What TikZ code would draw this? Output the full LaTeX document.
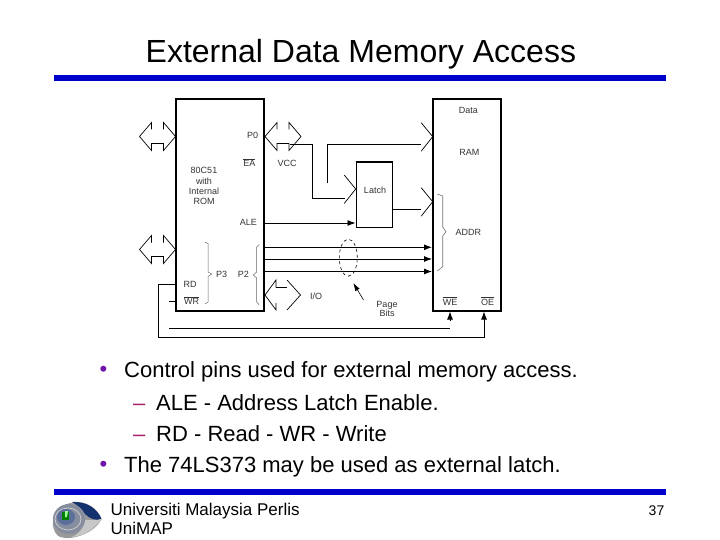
\documentclass[tikz,border=0pt]{standalone}
\usepackage{fontspec}
\setmainfont{Liberation Sans}
\usepackage{amsmath}
\usepackage{xcolor}
\usetikzlibrary{arrows.meta, shapes.geometric}
\definecolor{barblue}{RGB}{0,0,204}
\definecolor{logonavy}{RGB}{20,50,110}
\definecolor{bulletpurple}{RGB}{110,20,170}
\definecolor{dashpink}{RGB}{170,30,110}
\tikzset{
    chipbox/.style={draw, line width=2pt, inner sep=0pt},
    wire/.style={line width=0.9pt},
    arrowwire/.style={line width=0.9pt, -{Latex[length=8pt,width=6pt]}},
    openhead/.style={line width=0.7pt},
    chiplabel/.style={font=\fontsize{9}{9}\selectfont, text=black!80, inner sep=0pt},
    bar/.style={fill=barblue, draw=none},
    bodytext/.style={font=\fontsize{22}{24}\selectfont, anchor=base west, inner sep=0pt},
    foottext/.style={font=\fontsize{17}{19}\selectfont, anchor=base west, inner sep=0pt},
    dblarrow/.pic={
        \draw[openhead] (12,-7) -- (12,-14) -- (0,0) -- (12,14) -- (12,7) -- (24,7) -- (24,14) -- (36,0) -- (24,-14) -- (24,-7);
    }
}
\begin{document}
\begin{tikzpicture}[x=1pt, y=-1pt]
            \useasboundingbox (0,0) rectangle (720,540);
            % slide frame
            \node[font=\fontsize{32}{34}\selectfont, anchor=base west, inner sep=0pt] (title) at (145.5,62.3) {External Data Memory Access};
            \node[bar, minimum width=612pt, minimum height=6pt, inner sep=0pt] (topbar) at (360,78) {};
            \node[bar, minimum width=612pt, minimum height=6pt, inner sep=0pt] (footbar) at (360,492) {};

            % chips
            \node[chipbox, minimum width=88pt, minimum height=211pt] (mcu) at (220,205) {};
            \node[chipbox, minimum width=68pt, minimum height=211pt] (ram) at (467,205) {};
            \node[draw, line width=1pt, inner sep=0pt, minimum width=36pt, minimum height=65pt] (latch) at (374,195) {};
            \draw[line width=2.2pt] (latch.north west) -- (latch.north east);

            % bus arrows
            \pic at (139.5,136.5) {dblarrow};
            \pic at (139.5,249.5) {dblarrow};
            \pic at (265,136.5) {dblarrow};
            \draw[openhead] (276,287.5) -- (276,280) -- (265,295) -- (276,310) -- (276,303);
            \draw[openhead] (276,287.5) -- (287,287.5);
            \draw[openhead] (287,280) -- (300.5,295) -- (287,310);

            % open heads on the latch and the ram
            \foreach \name/\tipx/\tipy in {hlatch/355.7/189, hdata/432.7/136.7, haddr/432.7/201.7} {
                \coordinate (\name) at (\tipx,\tipy);
                \draw[openhead] ([shift={(-11.5,-14)}]\name) -- (\name) -- ([shift={(-11.5,14.5)}]\name);
            }

            % wires
            \coordinate (p0out) at (290,144);
            \coordinate (vccout) at (327.3,183.5);
            \draw[wire] (p0out) -- (312.3,144) -- (312.3,198.3) -- (345,198.3);
            \draw[wire] (vccout) -- (327.3,144.3) -- (420.5,144.3);
            \draw[wire] (latch.east |- 0,209) -- (420.5,209);
            \draw[arrowwire] (mcu.east |- 0,223) -- (latch.west |- 0,223);
            \foreach \y in {247.3,259,271.5} {
                \draw[arrowwire] (mcu.east |- 0,\y) -- (ram.west |- 0,\y);
            }

            % control lines
            \coordinate (wrstub) at (169,301);
            \coordinate (wrline) at (169,328.3);
            \coordinate (weline) at (450,328.3);
            \coordinate (westub) at (450,321);
            \draw[arrowwire] (mcu.west |- 0,284.3) -- (158.3,284.3) -- (158.3,337.3) -- (484,337.3) -- (484,0 |- ram.south);
            \draw[wire] (wrstub) -- (mcu.west |- wrstub);
            \draw[wire] (wrline) -- (weline);
            \draw[arrowwire] (westub) -- (450,0 |- ram.south);

            % braces
            \draw[line width=0.5pt, black!60] (205,242.3) -- (208,243.5) -- (208,272) -- (211.7,274) -- (208,276.5) -- (208,302) -- (205,304);
            \draw[line width=0.5pt, black!60] (259.3,244.3) -- (256.7,247) -- (256.7,272) -- (253.3,275) -- (256.7,278) -- (256.7,302) -- (259.3,305);
            \draw[line width=0.6pt, black!55] (437.3,194) -- (442.7,196) -- (442.7,227) -- (446,231.7) -- (442.7,236) -- (442.7,266.7) -- (437.3,271);

            % page bits
            \node[draw, dashed, ellipse, line width=0.6pt, inner sep=0pt, minimum width=18pt, minimum height=37pt] (pagering) at (348.3,257.7) {};
            \node[chiplabel, align=center, font=\fontsize{9}{9.7}\selectfont] (pagebits) at (387,309) {Page\\Bits};
            \coordinate (pagetail) at (363.5,300);
            \draw[line width=0.6pt, -{Latex[length=8pt,width=5pt]}] (pagetail) -- (353.3,283);

            % chip labels
            \node[chiplabel] (p0) at (252.7,135.7) {P0};
            \node[chiplabel] (ea) at (249.3,162.5) {$\overline{\text{EA}}$};
            \node[chiplabel] (vcc) at (287,163.3) {VCC};
            \node[chiplabel, align=center, font=\fontsize{9}{10.4}\selectfont] (mcuname) at (204,186.3) {80C51\\with\\Internal\\ROM};
            \node[chiplabel] (ale) at (248.3,222) {ALE};
            \node[chiplabel] (p3) at (221.7,274) {P3};
            \node[chiplabel] (p2) at (243.3,274) {P2};
            \node[chiplabel] (rd) at (190,284) {RD};
            \node[chiplabel] (wr) at (191.7,300.5) {$\overline{\text{WR}}$};
            \node[chiplabel] (io) at (316,296) {I/O};
            \node[chiplabel] (latchname) at (375,190) {Latch};
            \node[chiplabel] (data) at (468.3,110.7) {Data};
            \node[chiplabel] (ramname) at (469.3,152.3) {RAM};
            \node[chiplabel] (addr) at (468.3,232.7) {ADDR};
            \node[chiplabel] (we) at (450,301) {$\overline{\text{WE}}$};
            \node[chiplabel] (oe) at (487.7,301) {$\overline{\text{OE}}$};

            % bullets
            \node[bodytext, text=bulletpurple] (dot1) at (99.5,376) {•};
            \node[bodytext] (line1) at (124,377) {Control pins used for external memory access.};
            \node[bodytext, text=dashpink] (dash1) at (133,410.7) {–};
            \node[bodytext] (line2) at (156,410.7) {ALE - Address Latch Enable.};
            \node[bodytext, text=dashpink] (dash2) at (133,441.7) {–};
            \node[bodytext] (line3) at (156,441.7) {RD - Read - WR - Write};
            \node[bodytext, text=bulletpurple] (dot2) at (99.5,471) {•};
            \node[bodytext] (line4) at (124,472.7) {The 74LS373 may be used as external latch.};

            % footer
            \node[foottext] (uni) at (110.5,515.7) {Universiti Malaysia Perlis};
            \node[foottext] (unimap) at (110.5,534) {UniMAP};
            \node[font=\fontsize{14}{16}\selectfont, inner sep=0pt] (pageno) at (656.5,511) {37};

            % logo
            \fill[black!40] (53,526) .. controls (52,510) and (65,502) .. (78,502) .. controls (90,503) and (98,510) .. (101.5,519) .. controls (95,533) and (72,541) .. (60,537) .. controls (56,535) and (54,531) .. (53,526);
            \fill[logonavy] (72,502) .. controls (88,501) and (98,510) .. (101.5,519) .. controls (96,521) and (90,519) .. (85,514) .. controls (82,508) and (77,505) .. (72,502);
            \fill[black!22] (72,537) .. controls (85,536) and (95,528) .. (101.5,519) .. controls (96,521) and (90,520) .. (85,520) .. controls (84,528) and (79,534) .. (72,537);
            \fill[logonavy!55!black!50] (69,519) ellipse [x radius=16, y radius=15];
            \draw[white!80!black, line width=0.8pt] (68,519) ellipse [x radius=13, y radius=11];
            \fill[logonavy!70] (66,517) ellipse [x radius=9, y radius=8];
            \fill[green!50!black] (62,512) rectangle (69,520);
            \fill[white!60!green] (65,511) -- (68,511) -- (67,517) -- (65,517) -- cycle;
\end{tikzpicture}
\end{document}
